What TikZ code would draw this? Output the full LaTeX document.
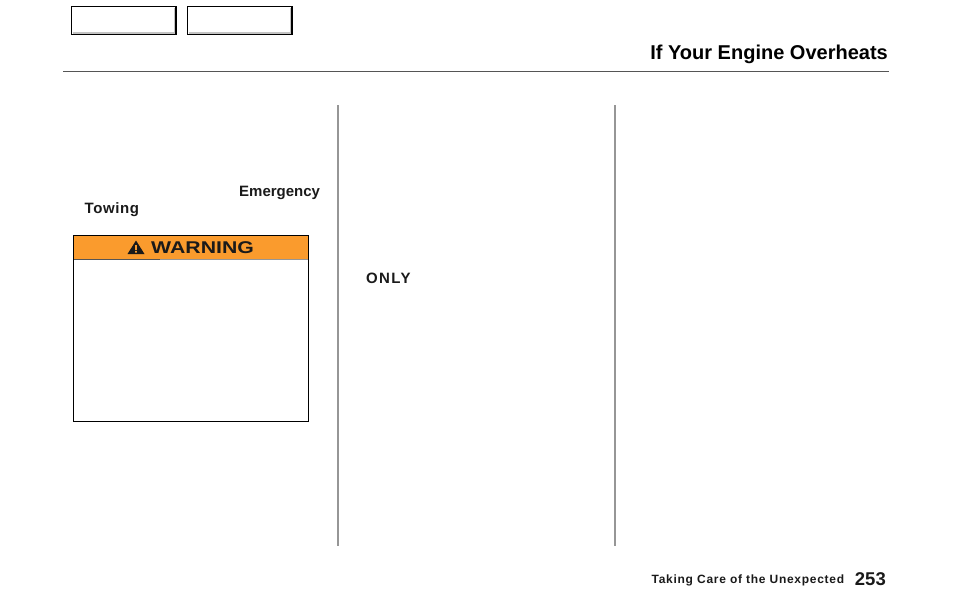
\documentclass[tikz,border=0pt]{standalone}
\usepackage{fontspec}
\setmainfont{Liberation Sans}
\usetikzlibrary{positioning}
\definecolor{warnorange}{RGB}{250,155,45}
\definecolor{tabshade}{RGB}{195,195,195}
\definecolor{rulegray}{RGB}{85,85,85}
\definecolor{colgray}{RGB}{150,150,150}
\definecolor{inkblack}{RGB}{26,26,26}
\begin{document}
\begin{tikzpicture}[x=1pt,y=-1pt,
	tabbox/.style={draw=black,line width=1.2pt,fill=white},
	tabedge/.style={draw=black,line width=1.8pt},
	bodytext/.style={inner sep=0pt,anchor=base west,font=\fontsize{15}{15}\selectfont\bfseries,text=inkblack},
	colrule/.style={colgray,line width=1.6pt}]
\useasboundingbox (0,0) rectangle (954,614);
% index tabs
\draw [tabbox] (71.5,6.5) rectangle (176.5,34.5);
\draw [tabshade,line width=1.5pt] (72.5,33) -- (174.8,33) -- (174.8,7.5);
\draw [tabedge] (176.3,6) -- (176.3,35);
\draw [tabbox] (187.5,6.5) rectangle (292.5,34.5);
\draw [tabshade,line width=1.5pt] (188.5,33) -- (290.8,33) -- (290.8,7.5);
\draw [tabedge] (292.3,6) -- (292.3,35);
% page head
\node [inner sep=0pt,anchor=base east,font=\fontsize{20}{20}\selectfont\bfseries,text=black] (title) at (888,59) {If Your Engine Overheats};
\draw [rulegray,line width=1pt] (63,71.5) -- (889,71.5);
% columns
\draw [colrule] (338,105) -- (338,546);
\draw [colrule] (615,105) -- (615,546);
% first column
\node [bodytext] (emergency) at (239,196) {Emergency};
\node [bodytext,font=\fontsize{15}{15}\selectfont\bfseries\addfontfeature{LetterSpace=4}] (towing) at (84.5,213) {Towing};
% warning box
\draw [fill=warnorange,draw=none] (73.5,235.5) rectangle (308.5,258.6);
\draw [colgray,line width=1.3pt] (73.5,259.3) -- (308.5,259.3);
\draw [rulegray,line width=1.3pt] (73.5,259.3) -- (160,259.3);
\draw [black,line width=1pt] (73.5,235.5) rectangle (308.5,421.5);
\fill [inkblack] (136,240.5) -- (144.5,254) -- (127.5,254) -- cycle;
\fill [warnorange] (135.2,245) rectangle (136.8,250) (135.2,251) rectangle (136.8,252.6);
\node [inner sep=0pt,anchor=base west,text=inkblack] (warning) at (151,253) {\fontsize{17}{17}\selectfont\bfseries\addfontfeature{FakeStretch=1.25}WARNING};
% second column
\node [bodytext,font=\fontsize{15}{15}\selectfont\bfseries\addfontfeature{LetterSpace=9}] (only) at (366,283) {ONLY};
% page foot
\node [inner sep=0pt,anchor=base west,font=\fontsize{12}{12}\selectfont\bfseries\addfontfeature{LetterSpace=6},text=inkblack] (section) at (651.5,583) {Taking Care of the Unexpected};
\node [inner sep=0pt,anchor=base east,font=\fontsize{18.5}{18.5}\selectfont\bfseries,text=inkblack] (pagenum) at (886,585) {253};
\end{tikzpicture}
\end{document}
